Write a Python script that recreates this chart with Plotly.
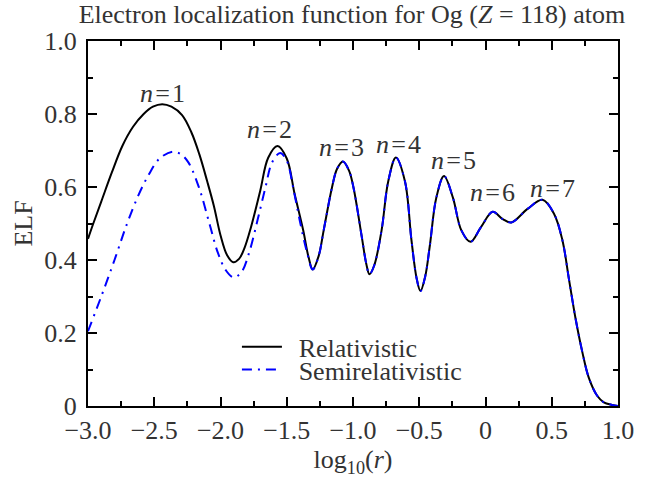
import plotly.graph_objects as go

# ELF profiles along log10(r)
x_rel = [-3.000, -2.960, -2.900, -2.820, -2.740, -2.660, -2.580, -2.510, -2.440, -2.370,
         -2.290, -2.220, -2.160, -2.100, -2.050, -2.000, -1.950, -1.904, -1.860, -1.820,
         -1.770, -1.700, -1.640, -1.570, -1.500, -1.440, -1.375, -1.337, -1.304, -1.260,
         -1.221, -1.159, -1.120, -1.076, -1.030, -0.996, -0.934, -0.900, -0.876, -0.840,
         -0.784, -0.734, -0.676, -0.608, -0.559, -0.520, -0.491, -0.455, -0.421, -0.371,
         -0.313, -0.246, -0.183, -0.113, -0.033, 0.054, 0.130, 0.195, 0.317, 0.430,
         0.517, 0.580, 0.630, 0.680, 0.730, 0.780, 0.843, 0.893, 0.955, 1.000]
y_rel = [0.458, 0.500, 0.560, 0.640, 0.713, 0.765, 0.800, 0.820, 0.827, 0.820,
         0.797, 0.750, 0.690, 0.615, 0.548, 0.468, 0.413, 0.394, 0.403, 0.432,
         0.490, 0.590, 0.680, 0.712, 0.678, 0.580, 0.480, 0.410, 0.374, 0.410,
         0.482, 0.598, 0.650, 0.670, 0.645, 0.598, 0.464, 0.390, 0.361, 0.385,
         0.482, 0.616, 0.681, 0.616, 0.455, 0.350, 0.315, 0.355, 0.437, 0.571,
         0.630, 0.571, 0.482, 0.450, 0.491, 0.532, 0.512, 0.503, 0.540, 0.565,
         0.527, 0.455, 0.347, 0.239, 0.149, 0.077, 0.028, 0.010, 0.003, 0.000]

x_semi = [-3.000, -2.900, -2.800, -2.710, -2.620, -2.540, -2.460, -2.360, -2.300, -2.240,
          -2.160, -2.080, -2.020, -1.960, -1.900, -1.840, -1.780, -1.720, -1.660, -1.610,
          -1.550, -1.500, -1.450, -1.400, -1.350, -1.304, -1.260,
          -1.221, -1.159, -1.120, -1.076, -1.030, -0.996, -0.934, -0.900, -0.876, -0.840,
          -0.784, -0.734, -0.676, -0.608, -0.559, -0.520, -0.491, -0.455, -0.421, -0.371,
          -0.313, -0.246, -0.183, -0.113, -0.033, 0.054, 0.130, 0.195, 0.317, 0.430,
          0.517, 0.580, 0.630, 0.680, 0.730, 0.780, 0.843, 0.893, 0.955, 1.000]
y_semi = [0.205, 0.300, 0.400, 0.495, 0.577, 0.635, 0.678, 0.697, 0.690, 0.666,
          0.596, 0.495, 0.420, 0.372, 0.352, 0.368, 0.425, 0.510, 0.600, 0.668,
          0.693, 0.672, 0.595, 0.505, 0.425, 0.374, 0.410,
          0.482, 0.598, 0.650, 0.670, 0.645, 0.598, 0.464, 0.390, 0.361, 0.385,
          0.482, 0.616, 0.681, 0.616, 0.455, 0.350, 0.315, 0.355, 0.437, 0.571,
          0.630, 0.571, 0.482, 0.450, 0.491, 0.532, 0.512, 0.503, 0.540, 0.565,
          0.527, 0.455, 0.347, 0.239, 0.149, 0.077, 0.028, 0.010, 0.003, 0.000]

# shell labels and where they sit
shell_labels = ["1", "2", "3", "4", "5", "6", "7"]
shell_x = [-2.44, -1.63, -1.087, -0.66, -0.245, 0.053, 0.502]
shell_y = [0.857, 0.757, 0.708, 0.716, 0.673, 0.584, 0.597]

x_tickvals = [-3.0, -2.5, -2.0, -1.5, -1.0, -0.5, 0.0, 0.5, 1.0]
x_ticktext = ["\u22123.0", "\u22122.5", "\u22122.0", "\u22121.5", "\u22121.0", "\u22120.5", "0", "0.5", "1.0"]
y_tickvals = [0.0, 0.2, 0.4, 0.6, 0.8, 1.0]
y_ticktext = ["0", "0.2", "0.4", "0.6", "0.8", "1.0"]

FONT = "Liberation Serif"
TXT = "#333333"
SIZE = 26
HS = "\u200a"          # hair space around the equals sign
PAD = "\u00a0\u2009"   # gap between legend line sample and its text

fig = go.Figure()
fig.add_trace(go.Scatter(
    x=x_rel, y=y_rel, mode="lines", name=PAD + "Relativistic", legend="legend",
    line=dict(color="black", width=2, shape="spline", smoothing=1.0),
))
fig.add_trace(go.Scatter(
    x=x_semi, y=y_semi, mode="lines", name=PAD + "Semirelativistic", legend="legend2",
    line=dict(color="#0000ff", width=2, shape="spline", smoothing=1.0,
              dash="10px,6px,2px,6px"),
))

for lab, xx, yy in zip(shell_labels, shell_x, shell_y):
    fig.add_annotation(x=xx, y=yy, text="<i>n</i>" + HS + "=" + HS + lab, showarrow=False,
                       font=dict(family=FONT, size=SIZE, color=TXT),
                       xanchor="center", yanchor="middle")

axis_common = dict(
    showgrid=False, zeroline=False, showline=True, linecolor="black", linewidth=2,
    mirror="ticks", ticks="inside", tickcolor="black", tickwidth=1.5, ticklen=9,
    tickfont=dict(family=FONT, size=SIZE, color=TXT),
)

fig.update_xaxes(
    range=[-3.0, 1.0], tickvals=x_tickvals, ticktext=x_ticktext,
    minor=dict(ticks="inside", ticklen=5, tickwidth=1.5, tickcolor="black",
               tick0=-3.0, dtick=0.25),
    title=dict(text="log<sub>10</sub>(<i>r</i>)", font=dict(family=FONT, size=SIZE, color=TXT),
               standoff=4),
    **axis_common,
)
fig.update_yaxes(
    range=[0.0, 1.0], tickvals=y_tickvals, ticktext=y_ticktext,
    minor=dict(ticks="inside", ticklen=5, tickwidth=1.5, tickcolor="black",
               tick0=0.0, dtick=0.1),
    title=dict(text="ELF", font=dict(family=FONT, size=SIZE, color=TXT), standoff=4),
    ticklabelstandoff=4,
    **axis_common,
)

legend_common = dict(xanchor="left", yanchor="middle", bgcolor="rgba(0,0,0,0)",
                     borderwidth=0, font=dict(family=FONT, size=SIZE, color=TXT),
                     itemwidth=40)

fig.update_layout(
    width=647, height=479,
    margin=dict(l=88, r=29, t=41, b=68),
    paper_bgcolor="white", plot_bgcolor="white",
    title=dict(text="Electron localization function for Og (<i>Z</i> = 118) atom",
               font=dict(family=FONT, size=SIZE, color=TXT),
               x=0.544, xanchor="center", y=0.972, yanchor="middle"),
    legend=dict(x=0.281, y=0.162, **legend_common),
    legend2=dict(x=0.281, y=0.100, **legend_common),
    showlegend=True,
)

fig.write_html("out.html")
